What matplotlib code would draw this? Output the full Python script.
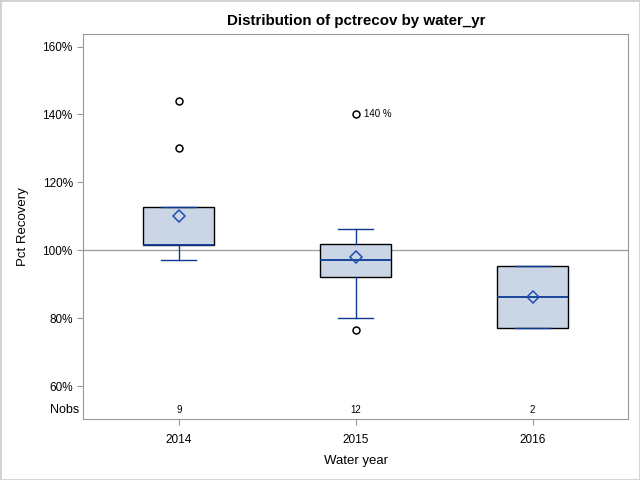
import matplotlib.pyplot as plt
from matplotlib.patches import Rectangle

plt.rcParams['font.family'] = ['Liberation Sans', 'DejaVu Sans']

years = ['2014', '2015', '2016']
q1 = [101.7, 92.1, 77.1]
med = [101.7, 97.1, 86.2]
q3 = [112.8, 101.8, 95.4]
whislo = [97.1, 80.1, 77.1]
whishi = [112.8, 106.2, 95.4]
means = [110.1, 98.1, 86.2]
fliers = [[144.0, 130.0], [140.1, 76.6], []]
nobs = [9, 12, 2]
yticks = [60, 80, 100, 120, 140, 160]

blue = '#0b3a94'
gray = '#999999'

fig = plt.figure(figsize=(6.4, 4.8), dpi=100)
ax = fig.add_axes([0.130, 0.127, 0.8517, 0.8015])

stats = []
for i in range(len(years)):
    stats.append(dict(q1=q1[i], med=med[i], q3=q3[i], whislo=whislo[i],
                      whishi=whishi[i], mean=means[i], fliers=fliers[i],
                      label=years[i]))

pos = list(range(len(years)))
ax.axhline(100, color='#a0a0a0', lw=1, zorder=1)
ax.bxp(stats, positions=pos, widths=0.4, showmeans=True, patch_artist=True,
       boxprops=dict(facecolor='#cad5e5', edgecolor='black', lw=1.0),
       medianprops=dict(color=blue, lw=1.3),
       whiskerprops=dict(color=blue, lw=1),
       capprops=dict(color=blue, lw=1),
       capwidths=0.2,
       meanprops=dict(marker='D', markerfacecolor='none', markeredgecolor='#1f4fb0',
                      markersize=6, markeredgewidth=1.1),
       flierprops=dict(marker='o', markerfacecolor='none', markeredgecolor='black',
                       markersize=5, markeredgewidth=1.1),
       zorder=2)

ax.text(1 + 0.045, fliers[1][0], '140 %', fontsize=7, va='center', ha='left')

for i, n in enumerate(nobs):
    ax.text(pos[i], 52.9, str(n), fontsize=7, ha='center', va='center')
ax.text(-0.008, 52.9, 'Nobs', fontsize=9, ha='right', va='center',
        transform=ax.get_yaxis_transform())

ax.set_xlim(-0.54, 2.54)
ax.set_ylim(50.3, 163.6)
ax.set_yticks(yticks)
ax.set_yticklabels([f'{t}%' for t in yticks])
ax.set_xticks(pos)
ax.set_xticklabels(years)
ax.tick_params(axis='both', colors=gray, labelcolor='black', labelsize=8.5, length=4)
ax.tick_params(axis='x', pad=7)
for s in ax.spines.values():
    s.set_color(gray)

ax.set_xlabel('Water year', fontsize=9.5, labelpad=6)
ax.set_ylabel('Pct Recovery', fontsize=9.5, labelpad=10)
fig.text(0.556, 0.956, 'Distribution of pctrecov by water_yr', fontsize=10.9,
         fontweight='bold', ha='center', va='center')

fig.patches.append(Rectangle((0, 0), 1, 1, transform=fig.transFigure, fill=False,
                             edgecolor='#d0d0d0', lw=2))

fig.savefig('out.png', dpi=100)
